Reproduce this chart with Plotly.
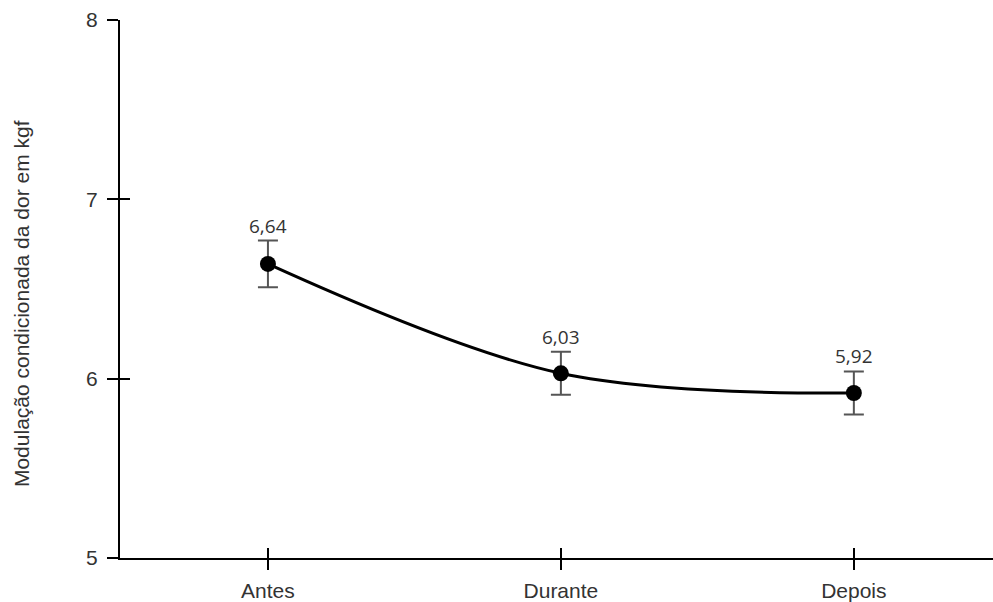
import plotly.graph_objects as go

categories = ["Antes", "Durante", "Depois"]
means = [6.64, 6.03, 5.92]
errors = [0.13, 0.12, 0.12]
labels = ["6,64", "6,03", "5,92"]
y_ticks = [5, 6, 7, 8]
y_title = "Modulação condicionada da dor em kgf"

axis_font = dict(family="Liberation Sans, Arial, sans-serif", size=21, color="#333333")
label_font = dict(family="Open Sans, Noto Sans, sans-serif", size=19, color="#333333")

fig = go.Figure()
fig.add_trace(go.Scatter(
    x=categories, y=means,
    mode="lines+markers",
    line=dict(color="black", width=3, shape="spline", smoothing=1),
    marker=dict(color="black", size=16),
    error_y=dict(type="data", array=errors, visible=True, color="#555555", thickness=2, width=10),
    showlegend=False, hoverinfo="skip",
))
# invisible trace to activate overlay axes (for ticks crossing the axis lines)
fig.add_trace(go.Scatter(
    x=categories, y=means, xaxis="x2", yaxis="y2",
    mode="markers", marker=dict(opacity=0), showlegend=False, hoverinfo="skip",
))

for c, m, e, t in zip(categories, means, errors, labels):
    fig.add_annotation(x=c, y=m + e, text=t, showarrow=False, yanchor="bottom",
                       yshift=0, font=label_font)

# y-axis title
fig.add_annotation(xref="paper", yref="paper", x=0, y=0.472, xanchor="center", yanchor="middle",
                   xshift=-99, text=y_title, textangle=-90, showarrow=False, font=axis_font)

xr = [-0.505, 2.475]
yr = [5, 8]
fig.update_layout(
    width=993, height=602,
    margin=dict(l=120, r=0, t=20, b=44),
    paper_bgcolor="white", plot_bgcolor="white",
    xaxis=dict(type="category", categoryorder="array", categoryarray=categories,
               range=xr, showgrid=False, zeroline=False,
               showline=True, linecolor="black", linewidth=2,
               ticks="outside", ticklen=10, tickwidth=1.5, tickcolor="black",
               tickfont=axis_font, ticklabelstandoff=3),
    yaxis=dict(range=yr, tickvals=y_ticks, showgrid=False, zeroline=False,
               showline=True, linecolor="black", linewidth=2,
               ticks="outside", ticklen=11, tickwidth=1.5, tickcolor="black",
               tickfont=axis_font, ticklabelstandoff=5),
    xaxis2=dict(type="category", categoryorder="array", categoryarray=categories,
                range=xr, overlaying="x", anchor="y2", showgrid=False, zeroline=False,
                showline=False, ticks="inside", ticklen=10, tickwidth=1.5, tickcolor="black",
                showticklabels=False),
    yaxis2=dict(range=yr, tickvals=y_ticks, overlaying="y", anchor="x2", showgrid=False,
                zeroline=False, showline=False, ticks="inside", ticklen=10, tickwidth=1.5,
                tickcolor="black", showticklabels=False),
)

fig.write_html("out.html", config={"displayModeBar": False},
               post_script="document.body.style.margin='0';document.body.style.overflow='hidden';")
